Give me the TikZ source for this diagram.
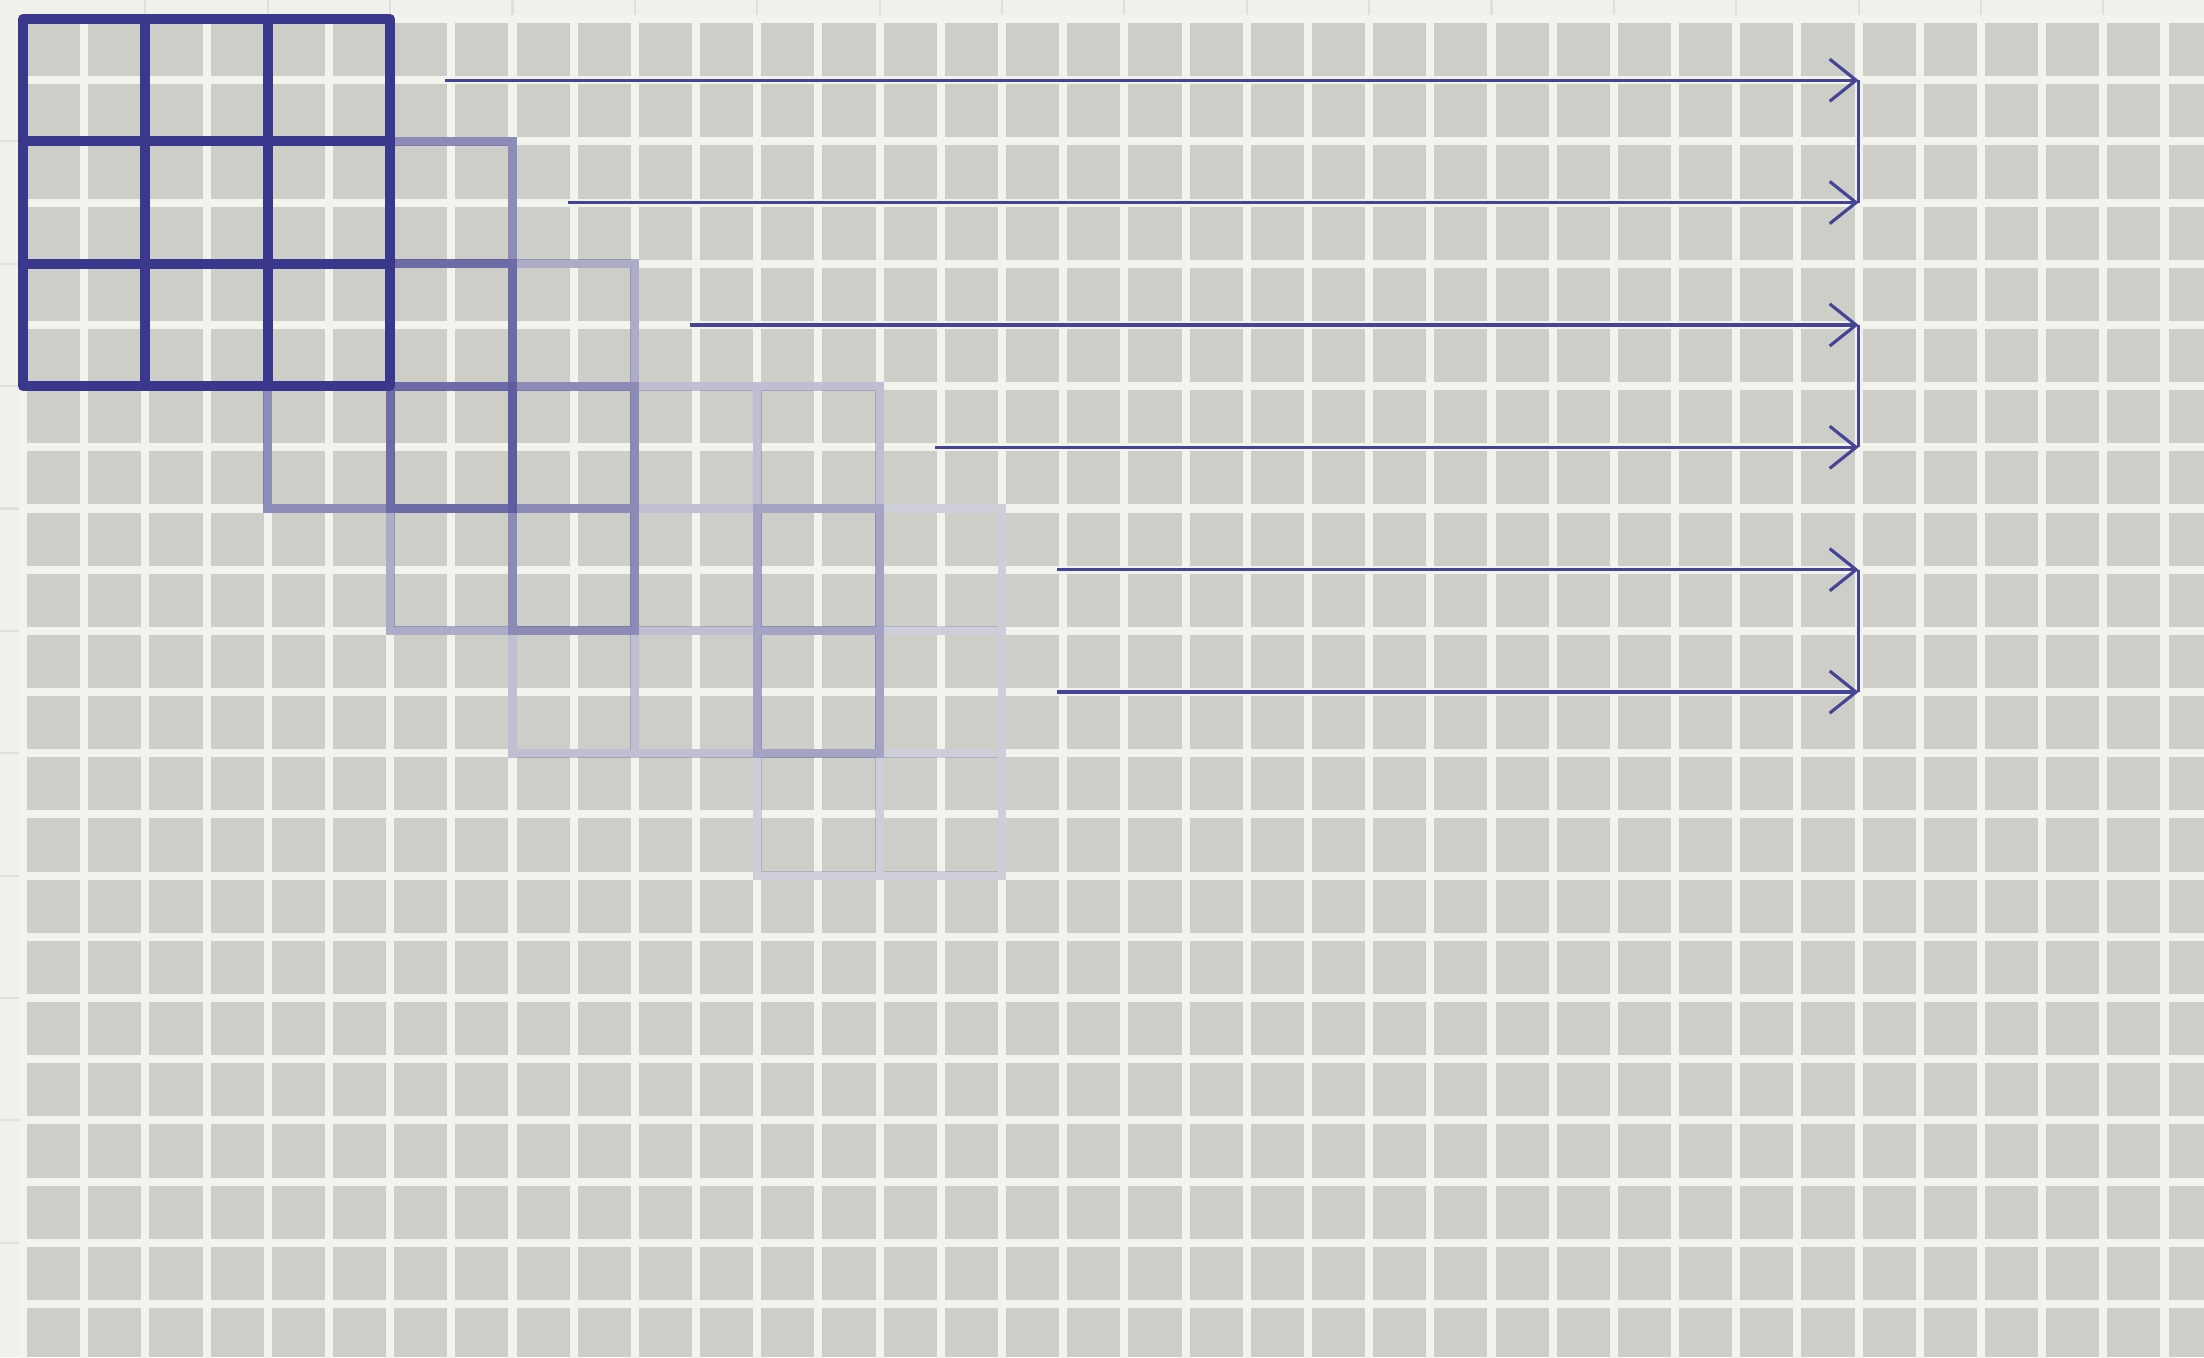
\documentclass[tikz,border=0pt]{standalone}
\usetikzlibrary{arrows.meta}
\definecolor{paper}{RGB}{241,241,236}
\definecolor{cellgray}{RGB}{206,206,201}
\definecolor{gapwhite}{RGB}{243,243,238}
\definecolor{faintline}{RGB}{224,224,218}
\definecolor{kern}{RGB}{58,56,140}
\definecolor{arrcol}{RGB}{70,68,150}
\tikzset{
  gapline/.style={draw=gapwhite, line width=2.3pt},
  marginline/.style={draw=faintline, line width=0.6pt},
  kernelmain/.style={draw=kern, line width=2.85pt, line join=round},
  kernelfade/.style={draw=kern, line width=2.5pt, opacity=#1},
  slide/.style={draw=arrcol, line width=0.9pt, -{Straight Barb[length=7.5pt,width=12pt,line width=0.9pt]}},
  joinline/.style={draw=arrcol, line width=0.9pt}
}
\begin{document}
\begin{tikzpicture}[x=0.01cm,y=-0.01cm]
\useasboundingbox (0,0) rectangle (2204,1357);
\fill[paper] (0,0) rectangle (2204,1357);
\fill[cellgray] (23,19) rectangle (2204,1357);
\begin{scope}[shift={(0.23cm,-0.19cm)}, x=0.6115cm, y=-0.6115cm]
  % faint page lines in the margins
  \foreach \i in {2,4,...,34} \draw[marginline] (\i,-0.31) -- (\i,0);
  \foreach \j in {2,4,...,20} \draw[marginline] (-0.38,\j) -- (0,\j);
  % white gaps of the grid
  \foreach \i in {0,...,36} \draw[gapline] (\i,0) -- (\i,22.2);
  \foreach \j in {0,...,22} \draw[gapline] (0,\j) -- (35.8,\j);

  % kernel frames (corners)
  \coordinate (Anw) at (0,0);  \coordinate (Ase) at (6,6);
  \coordinate (Bnw) at (4,2);  \coordinate (Bse) at (8,8);
  \coordinate (Cnw) at (6,4);  \coordinate (Cse) at (10,10);
  \coordinate (Dnw) at (8,6);  \coordinate (Dse) at (14,12);
  \coordinate (Enw) at (12,8); \coordinate (Ese) at (16,14);

  \draw[kernelfade=0.2] (Enw) rectangle (Ese)
     (14,8) -- (14,14) (12,10) -- (16,10) (12,12) -- (16,12);
  \draw[kernelfade=0.28] (Dnw) rectangle (Dse)
     (10,6) -- (10,12) (12,6) -- (12,12) (8,8) -- (14,8) (8,10) -- (14,10);
  \draw[kernelfade=0.38] (Cnw) rectangle (Cse)
     (8,4) -- (8,10) (6,6) -- (10,6) (6,8) -- (10,8);
  \draw[kernelfade=0.55] (Bnw) rectangle (Bse)
     (6,2) -- (6,8) (4,4) -- (8,4) (4,6) -- (8,6);
  \draw[kernelmain] (Anw) rectangle (Ase)
     (2,0) -- (2,6) (4,0) -- (4,6) (0,2) -- (6,2) (0,4) -- (6,4);

  % sliding arrows
  \coordinate (s1) at (6.9,1);   \coordinate (e1) at (30,1);
  \coordinate (s2) at (8.9,3);   \coordinate (e2) at (30,3);
  \coordinate (s3) at (10.9,5);  \coordinate (e3) at (30,5);
  \coordinate (s4) at (14.9,7);  \coordinate (e4) at (30,7);
  \coordinate (s5) at (16.9,9);  \coordinate (e5) at (30,9);
  \coordinate (s6) at (16.9,11); \coordinate (e6) at (30,11);
  \draw[joinline] (e1) -- (e2);
  \draw[joinline] (e3) -- (e4);
  \draw[joinline] (e5) -- (e6);
  \foreach \k in {1,...,6} \draw[slide] (s\k) -- (e\k);
\end{scope}
\end{tikzpicture}
\end{document}
